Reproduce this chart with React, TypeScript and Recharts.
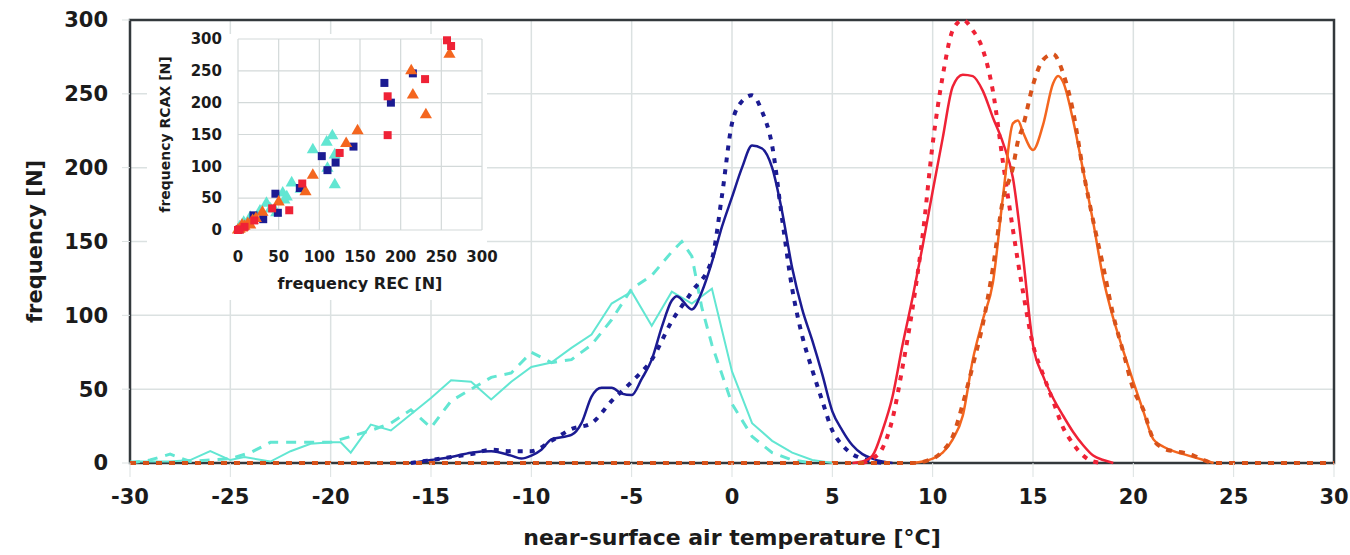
import {
  LineChart,
  Line,
  ScatterChart,
  Scatter,
  XAxis,
  YAxis,
  CartesianGrid,
  ReferenceArea,
} from "recharts";

// main chart: frequency of near-surface air temperature (°C)
const tempTicks = [-30, -25, -20, -15, -10, -5, 0, 5, 10, 15, 20, 25, 30];
const freqTicks = [0, 50, 100, 150, 200, 250, 300];

const cyanSolid = [
  { t: -30, n: 1 }, { t: -29, n: 1 }, { t: -28, n: 1 }, { t: -27, n: 2 }, { t: -26, n: 8 },
  { t: -25, n: 2 }, { t: -24.3, n: 4 }, { t: -23, n: 1 }, { t: -22, n: 8 }, { t: -21, n: 13 },
  { t: -20, n: 14 }, { t: -19.5, n: 14 }, { t: -19, n: 7 }, { t: -18, n: 26 }, { t: -17, n: 22 },
  { t: -16, n: 33 }, { t: -15, n: 44 }, { t: -14, n: 56 }, { t: -13, n: 55 }, { t: -12, n: 43 },
  { t: -11, n: 55 }, { t: -10, n: 65 }, { t: -9, n: 68 }, { t: -8, n: 78 }, { t: -7, n: 87 },
  { t: -6, n: 108 }, { t: -5, n: 116 }, { t: -4, n: 93 }, { t: -3, n: 116 }, { t: -2, n: 108 },
  { t: -1, n: 118 }, { t: 0, n: 62 }, { t: 1, n: 27 }, { t: 2, n: 15 }, { t: 3, n: 7 },
  { t: 4, n: 2 }, { t: 5, n: 0 },
];

const cyanDashed = [
  { t: -30, n: 0 }, { t: -29, n: 2 }, { t: -28, n: 6 }, { t: -27, n: 1 }, { t: -26, n: 2 },
  { t: -25, n: 3 }, { t: -24, n: 7 }, { t: -23, n: 14 }, { t: -22, n: 14 }, { t: -21, n: 14 },
  { t: -20, n: 14 }, { t: -19, n: 18 }, { t: -18, n: 22 }, { t: -17, n: 27 }, { t: -16, n: 36 },
  { t: -15, n: 24 }, { t: -14, n: 42 }, { t: -13, n: 50 }, { t: -12, n: 58 }, { t: -11, n: 61 },
  { t: -10, n: 75 }, { t: -9, n: 68 }, { t: -8, n: 70 }, { t: -7, n: 80 }, { t: -6, n: 97 },
  { t: -5, n: 118 }, { t: -4, n: 127 }, { t: -3, n: 143 }, { t: -2.5, n: 150 }, { t: -2, n: 140 },
  { t: -1.5, n: 105 }, { t: -1, n: 80 }, { t: 0, n: 40 }, { t: 1, n: 18 }, { t: 2, n: 7 },
  { t: 3, n: 2 }, { t: 4, n: 0 },
];

const navySolid = [
  { t: -16, n: 0 }, { t: -15, n: 2 }, { t: -14, n: 4 }, { t: -13, n: 7 },
  { t: -12, n: 8 }, { t: -11, n: 5 }, { t: -10.5, n: 3 }, { t: -10, n: 5 }, { t: -9.5, n: 9 },
  { t: -9, n: 16 }, { t: -8, n: 19 }, { t: -7.5, n: 27 }, { t: -7, n: 45 }, { t: -6.5, n: 51 },
  { t: -6, n: 51 }, { t: -5.5, n: 47 }, { t: -5, n: 46 }, { t: -4.5, n: 57 }, { t: -4, n: 70 },
  { t: -3.5, n: 92 }, { t: -3, n: 110 }, { t: -2.75, n: 113 }, { t: -2, n: 104 }, { t: -1.5, n: 116 },
  { t: -1, n: 136 }, { t: -0.5, n: 160 }, { t: 0, n: 180 }, { t: 0.5, n: 200 }, { t: 1, n: 215 },
  { t: 1.5, n: 213 }, { t: 2, n: 200 }, { t: 2.5, n: 170 }, { t: 3, n: 132 }, { t: 3.5, n: 104 },
  { t: 4, n: 83 }, { t: 4.5, n: 60 }, { t: 5, n: 35 }, { t: 5.5, n: 22 }, { t: 6, n: 12 },
  { t: 6.5, n: 6 }, { t: 7, n: 3 }, { t: 7.5, n: 1 }, { t: 8, n: 0 },
];

const navyDotted = [
  { t: -16, n: 0 }, { t: -15, n: 2 }, { t: -14, n: 4 }, { t: -13, n: 6 },
  { t: -12, n: 9 }, { t: -11, n: 8 }, { t: -10, n: 8 }, { t: -9, n: 15 }, { t: -8, n: 23 },
  { t: -7, n: 27 }, { t: -6, n: 42 }, { t: -5, n: 55 }, { t: -4, n: 70 }, { t: -3, n: 96 },
  { t: -2, n: 116 }, { t: -1, n: 138 }, { t: -0.5, n: 181 }, { t: 0, n: 230 }, { t: 0.5, n: 245 },
  { t: 1, n: 249 }, { t: 1.5, n: 238 }, { t: 2, n: 215 }, { t: 2.5, n: 165 }, { t: 3, n: 118 },
  { t: 3.5, n: 86 }, { t: 4, n: 63 }, { t: 4.5, n: 42 }, { t: 5, n: 22 }, { t: 5.5, n: 12 },
  { t: 6, n: 6 }, { t: 6.5, n: 3 }, { t: 7, n: 1 }, { t: 7.5, n: 0 },
];

const redSolid = [
  { t: 6, n: 0 }, { t: 6.5, n: 1 }, { t: 7, n: 5 }, { t: 7.5, n: 22 },
  { t: 8, n: 45 }, { t: 8.5, n: 80 }, { t: 9, n: 112 }, { t: 9.5, n: 147 }, { t: 10, n: 184 },
  { t: 10.5, n: 220 }, { t: 11, n: 255 }, { t: 11.5, n: 263 }, { t: 12, n: 262 }, { t: 12.5, n: 252 },
  { t: 13, n: 234 }, { t: 13.5, n: 217 }, { t: 14, n: 193 }, { t: 14.5, n: 140 }, { t: 15, n: 80 },
  { t: 15.5, n: 59 }, { t: 16, n: 44 }, { t: 16.5, n: 32 }, { t: 17, n: 21 }, { t: 17.5, n: 12 },
  { t: 18, n: 5 }, { t: 18.5, n: 2 }, { t: 19, n: 0 },
];

const redDotted = [
  { t: 6.5, n: 0 }, { t: 7, n: 3 }, { t: 7.5, n: 10 }, { t: 8, n: 30 },
  { t: 8.5, n: 65 }, { t: 9, n: 105 }, { t: 9.5, n: 154 }, { t: 10, n: 216 }, { t: 10.5, n: 262 },
  { t: 11, n: 293 }, { t: 11.5, n: 300 }, { t: 12, n: 293 }, { t: 12.5, n: 280 }, { t: 13, n: 252 },
  { t: 13.5, n: 204 }, { t: 14, n: 158 }, { t: 14.5, n: 116 }, { t: 15, n: 80 }, { t: 15.5, n: 60 },
  { t: 16, n: 42 }, { t: 16.5, n: 24 }, { t: 17, n: 13 }, { t: 17.5, n: 5 }, { t: 18, n: 1 },
  { t: 18.5, n: 0 },
];

const orangeSolid = [
  { t: 9, n: 0 }, { t: 9.5, n: 1 }, { t: 10, n: 3 }, { t: 10.5, n: 7 },
  { t: 11, n: 16 }, { t: 11.5, n: 32 }, { t: 12, n: 70 }, { t: 12.5, n: 97 }, { t: 13, n: 122 },
  { t: 13.5, n: 180 }, { t: 14, n: 230 }, { t: 14.25, n: 232 }, { t: 14.5, n: 224 }, { t: 15, n: 212 },
  { t: 15.5, n: 229 }, { t: 16, n: 257 }, { t: 16.25, n: 262 }, { t: 16.5, n: 258 }, { t: 17, n: 232 },
  { t: 17.5, n: 198 }, { t: 18, n: 163 }, { t: 18.5, n: 125 }, { t: 19, n: 98 }, { t: 19.5, n: 76 },
  { t: 20, n: 55 }, { t: 20.5, n: 35 }, { t: 21, n: 16 }, { t: 21.5, n: 11 }, { t: 22, n: 8 },
  { t: 22.5, n: 6 }, { t: 23, n: 4 }, { t: 23.5, n: 2 }, { t: 24, n: 0 },
];

const orangeDotted = [
  { t: -30, n: 0 }, { t: 9, n: 0 }, { t: 10, n: 3 }, { t: 10.5, n: 8 }, { t: 11, n: 18 },
  { t: 11.5, n: 40 }, { t: 12, n: 66 }, { t: 12.5, n: 94 }, { t: 13, n: 132 }, { t: 13.5, n: 178 },
  { t: 14, n: 200 }, { t: 14.25, n: 218 }, { t: 14.5, n: 228 }, { t: 15, n: 256 }, { t: 15.5, n: 273 },
  { t: 16, n: 277 }, { t: 16.5, n: 264 }, { t: 17, n: 238 }, { t: 17.5, n: 198 }, { t: 18, n: 164 },
  { t: 18.5, n: 133 }, { t: 19, n: 100 }, { t: 19.5, n: 75 }, { t: 20, n: 50 }, { t: 20.5, n: 36 },
  { t: 21, n: 16 }, { t: 21.5, n: 10 }, { t: 22, n: 8 }, { t: 22.5, n: 7 }, { t: 23, n: 5 },
  { t: 23.5, n: 2 }, { t: 24, n: 0 }, { t: 30, n: 0 },
];

// inset: frequency REC vs frequency RCAX
const insetTicks = [0, 50, 100, 150, 200, 250, 300];

const navyPoints = [
  { x: 215, y: 246 }, { x: 180, y: 231 }, { x: 188, y: 200 }, { x: 142, y: 131 }, { x: 103, y: 116 },
  { x: 120, y: 106 }, { x: 110, y: 94 }, { x: 76, y: 66 }, { x: 46, y: 57 }, { x: 49, y: 27 },
  { x: 31, y: 17 }, { x: 19, y: 23 }, { x: 8, y: 6 }, { x: 2, y: 1 },
];

const redPoints = [
  { x: 257, y: 298 }, { x: 262, y: 289 }, { x: 230, y: 237 }, { x: 184, y: 210 }, { x: 184, y: 149 },
  { x: 125, y: 121 }, { x: 79, y: 73 }, { x: 63, y: 31 }, { x: 42, y: 34 }, { x: 20, y: 15 },
  { x: 8, y: 5 }, { x: 2, y: 1 }, { x: 0, y: 0 },
];

const orangePoints = [
  { x: 260, y: 276 }, { x: 213, y: 250 }, { x: 215, y: 212 }, { x: 231, y: 181 }, { x: 147, y: 156 },
  { x: 133, y: 136 }, { x: 92, y: 86 }, { x: 83, y: 60 }, { x: 50, y: 44 }, { x: 30, y: 28 },
  { x: 18, y: 15 }, { x: 12, y: 10 }, { x: 8, y: 6 }, { x: 5, y: 3 }, { x: 2, y: 1 },
  { x: 0, y: 0 }, { x: 15, y: 8 }, { x: 22, y: 18 }, { x: 5, y: 8 },
];

const cyanPoints = [
  { x: 116, y: 148 }, { x: 109, y: 138 }, { x: 92, y: 126 }, { x: 119, y: 118 }, { x: 110, y: 97 },
  { x: 119, y: 71 }, { x: 66, y: 74 }, { x: 77, y: 64 }, { x: 55, y: 58 }, { x: 57, y: 47 },
  { x: 35, y: 42 }, { x: 27, y: 30 }, { x: 47, y: 27 }, { x: 15, y: 20 }, { x: 7, y: 12 },
  { x: 2, y: 5 }, { x: 60, y: 52 }, { x: 40, y: 33 },
];

const FONT = "'DejaVu Sans', Verdana, sans-serif";
const TEXT = "#1b1b1b";
const GRID = "#dbe1e1";

const CYAN = "#62e6d2";
const NAVY = "#1b1b92";
const RED = "#ef2236";
const ORANGE = "#f4661f";

const mainTick = { fontSize: 21, fontWeight: 700, fill: TEXT, fontFamily: FONT };
const insetTick = { fontSize: 15, fontWeight: 700, fill: TEXT, fontFamily: FONT };

const App = () => {
  return (
    <div style={{ position: "absolute", left: 0, top: 0, width: 1350, height: 555, background: "#fff" }}>
      <div style={{ position: "absolute", left: 0, top: 0 }}>
        <LineChart width={1350} height={555} margin={{ top: 20, right: 16, bottom: 2, left: 0 }}>
          <CartesianGrid stroke={GRID} strokeWidth={1.5} />
          <ReferenceArea x1={-30} x2={30} y1={0} y2={300} fill="none" stroke="#33383c" strokeWidth={2.5} />
          <XAxis
            type="number"
            dataKey="t"
            domain={[-30, 30]}
            ticks={tempTicks}
            height={90}
            tick={mainTick}
            tickSize={14}
            tickMargin={12}
            tickLine={{ stroke: GRID }}
            axisLine={false}
            label={{
              value: "near-surface air temperature [°C]",
              position: "insideBottom",
              offset: 8,
              style: { fontSize: 22, fontWeight: 700, fill: TEXT, fontFamily: FONT },
            }}
          />
          <YAxis
            type="number"
            domain={[0, 300]}
            ticks={freqTicks}
            width={130}
            tick={mainTick}
            tickSize={8}
            tickMargin={14}
            tickLine={{ stroke: GRID }}
            axisLine={false}
            label={{
              value: "frequency [N]",
              angle: -90,
              position: "insideLeft",
              offset: 35,
              style: { textAnchor: "middle", fontSize: 21, fontWeight: 700, fill: TEXT, fontFamily: FONT },
            }}
          />
          <Line data={cyanSolid} dataKey="n" type="linear" stroke={CYAN} strokeWidth={2} dot={false} isAnimationActive={false} />
          <Line data={cyanDashed} dataKey="n" type="linear" stroke={CYAN} strokeWidth={3} strokeDasharray="10 8" dot={false} isAnimationActive={false} />
          <Line data={navySolid} dataKey="n" type="monotone" stroke={NAVY} strokeWidth={2.5} dot={false} isAnimationActive={false} />
          <Line data={navyDotted} dataKey="n" type="monotone" stroke={NAVY} strokeWidth={4} strokeDasharray="5 7" dot={false} isAnimationActive={false} />
          <Line data={redSolid} dataKey="n" type="monotone" stroke={RED} strokeWidth={2.5} dot={false} isAnimationActive={false} />
          <Line data={redDotted} dataKey="n" type="monotone" stroke={RED} strokeWidth={4} strokeDasharray="5 7" dot={false} isAnimationActive={false} />
          <Line data={orangeSolid} dataKey="n" type="monotone" stroke={ORANGE} strokeWidth={2.5} dot={false} isAnimationActive={false} />
          <Line data={orangeDotted} dataKey="n" type="monotone" stroke="#d8521a" strokeWidth={4} strokeDasharray="6 7" dot={false} isAnimationActive={false} />
        </LineChart>
      </div>

      {/* white panel behind the inset */}
      <div style={{ position: "absolute", left: 147, top: 34, width: 340, height: 266, background: "#fff" }} />

      <div style={{ position: "absolute", left: 140, top: 20 }}>
        <ScatterChart width={360} height={290} margin={{ top: 19, right: 18, bottom: 20, left: 0 }}>
          <CartesianGrid stroke="#d3d9d9" strokeWidth={1.2} />
          <XAxis
            type="number"
            dataKey="x"
            domain={[0, 300]}
            ticks={insetTicks}
            height={60}
            tick={insetTick}
            tickLine={false}
            axisLine={false}
            tickSize={6}
            tickMargin={15}
            label={{
              value: "frequency REC [N]",
              position: "insideBottom",
              offset: 1,
              style: { fontSize: 16, fontWeight: 700, fill: TEXT, fontFamily: FONT },
            }}
          />
          <YAxis
            type="number"
            dataKey="y"
            domain={[0, 300]}
            ticks={insetTicks}
            width={98}
            tick={insetTick}
            tickLine={false}
            axisLine={false}
            tickSize={6}
            tickMargin={10}
            label={{
              value: "frequency RCAX [N]",
              angle: -90,
              position: "insideLeft",
              offset: 25,
              style: { textAnchor: "middle", fontSize: 14, fontWeight: 700, fill: TEXT, fontFamily: FONT },
            }}
          />
          <Scatter data={cyanPoints} fill={CYAN} shape="triangle" isAnimationActive={false} />
          <Scatter data={navyPoints} fill={NAVY} shape="square" isAnimationActive={false} />
          <Scatter data={orangePoints} fill={ORANGE} shape="triangle" isAnimationActive={false} />
          <Scatter data={redPoints} fill={RED} shape="square" isAnimationActive={false} />
        </ScatterChart>
      </div>
    </div>
  );
};

export default App;
